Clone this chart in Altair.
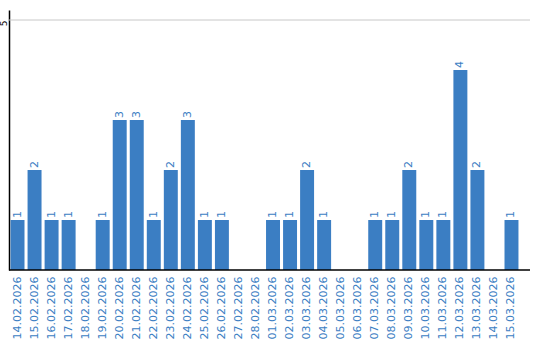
import altair as alt
import pandas as pd

dates = ["14.02.2026", "15.02.2026", "16.02.2026", "17.02.2026", "18.02.2026",
         "19.02.2026", "20.02.2026", "21.02.2026", "22.02.2026", "23.02.2026",
         "24.02.2026", "25.02.2026", "26.02.2026", "27.02.2026", "28.02.2026",
         "01.03.2026", "02.03.2026", "03.03.2026", "04.03.2026", "05.03.2026",
         "06.03.2026", "07.03.2026", "08.03.2026", "09.03.2026", "10.03.2026",
         "11.03.2026", "12.03.2026", "13.03.2026", "14.03.2026", "15.03.2026"]
counts = [1, 2, 1, 1, 0, 1, 3, 3, 1, 2, 3, 1, 1, 0, 0,
          1, 1, 2, 1, 0, 0, 1, 1, 2, 1, 1, 4, 2, 0, 1]
grid_values = [5]

df = pd.DataFrame({"date": dates, "count": counts})
grid_df = pd.DataFrame({"v": grid_values})
base_df = pd.DataFrame({"v": [0]})
BLUE = "#3b7ec3"
FONT = "DejaVu Sans"

x = alt.X("date:N", sort=None,
          scale=alt.Scale(range=[0, 511], paddingInner=0.18, paddingOuter=0.09),
          axis=alt.Axis(title=None, labelAngle=270, labelAlign="right", labelBaseline="middle",
                        labelPadding=6, ticks=False, domain=False,
                        labelColor=BLUE, labelFont=FONT, labelFontSize=11, labelLimit=200))
y = alt.Y("count:Q", scale=alt.Scale(domain=[0, 5.2], nice=False),
          axis=alt.Axis(title=None, values=[5], ticks=False, labelAngle=270, grid=False,
                        labelAlign="center", labelBaseline="alphabetic", labelPadding=3,
                        labelOffset=3,
                        domainColor="black", domainWidth=1.5,
                        labelFont=FONT, labelFontSize=9, labelColor="black"))

grid = alt.Chart(grid_df).mark_rule(color="#c8c8c8", strokeWidth=1).encode(
    y=alt.Y("v:Q"), x=alt.value(0), x2=alt.value(521))
bars = alt.Chart(df).mark_bar(color=BLUE).encode(x=x, y=y)
texts = alt.Chart(df).transform_filter("datum.count > 0").mark_text(
    angle=270, align="left", baseline="middle", dx=2, color=BLUE, font=FONT, fontSize=11
).encode(x=alt.X("date:N", sort=None), y=alt.Y("count:Q"), text="count:Q")
baseline = alt.Chart(base_df).mark_rule(color="black", strokeWidth=1.5).encode(
    y=alt.Y("v:Q"), x=alt.value(0), x2=alt.value(521))

chart = (grid + bars + texts + baseline).properties(
    width=521, height=260, padding={"left": 9, "top": 10, "right": 10, "bottom": 70},
    autosize=alt.AutoSizeParams(type="none")
).configure_view(stroke=None)

chart.save("out.html", embed_options={"renderer": "svg", "actions": False})
